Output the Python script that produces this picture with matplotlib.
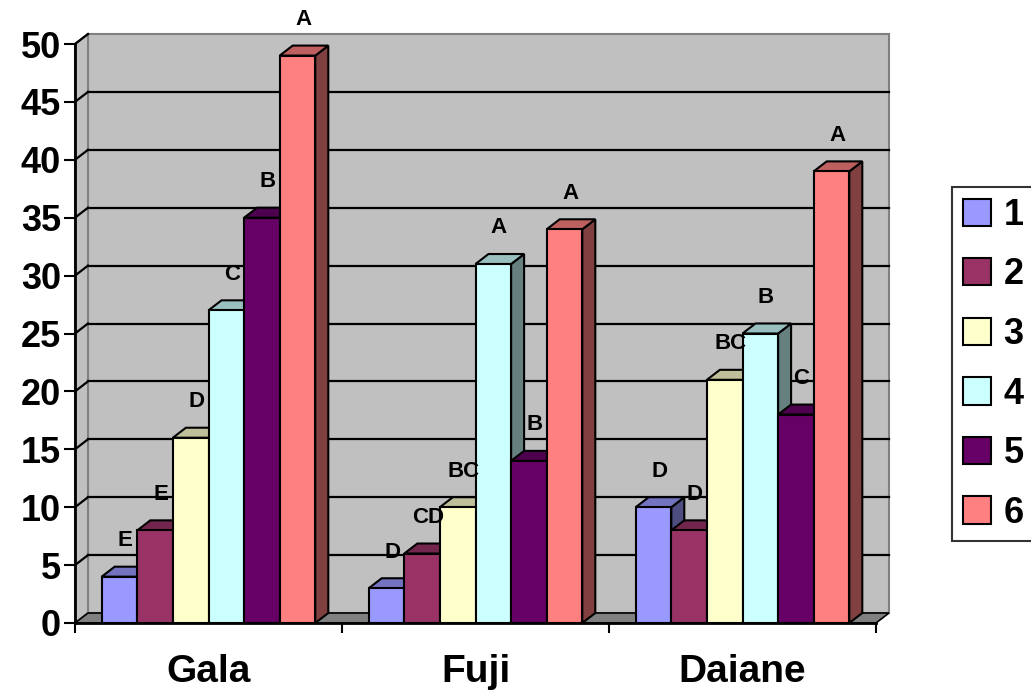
import numpy as np
import matplotlib
matplotlib.use('Agg')
import matplotlib.pyplot as plt
from matplotlib.patches import Polygon, Patch

# dados
categorias = ['Gala', 'Fuji', 'Daiane']
series = ['1', '2', '3', '4', '5', '6']
valores = [
    [4, 3, 10],    # 1
    [8, 6, 8],     # 2
    [16, 10, 21],  # 3
    [27, 31, 25],  # 4
    [35, 14, 18],  # 5
    [49, 34, 39],  # 6
]
letras = [
    ['E', 'D', 'D'],
    ['E', 'CD', 'D'],
    ['D', 'BC', 'BC'],
    ['C', 'A', 'B'],
    ['B', 'B', 'C'],
    ['A', 'A', 'A'],
]
cores = ['#9999FF', '#993366', '#FFFFCC', '#CCFFFF', '#660066', '#FF8080']
yticks = list(range(0, 55, 5))

plt.rcParams['font.family'] = ['Liberation Sans', 'DejaVu Sans']
plt.rcParams['font.weight'] = 'bold'

fig = plt.figure(figsize=(10.31, 6.91), dpi=100)
W, H = 1031, 691
ax = fig.add_axes([75 / W, (H - 623) / H, (876 - 75) / W, (623 - 44) / H])
ax.set_xlim(-0.5, 2.5)
ax.set_ylim(0, 50)
ax.patch.set_visible(False)


def escurece(c, f):
    r, g, b = matplotlib.colors.to_rgb(c)
    return (r * f, g * f, b * f)


# profundidade 3D em unidades de dados (13 px x 10 px)
fig.canvas.draw()
p0 = ax.transData.transform((0, 0))
p1 = ax.transData.inverted().transform((p0[0] + 13, p0[1] + 10))
ddx, ddy = p1[0], p1[1]

x0, x1 = -0.5, 2.5
# parede do fundo, parede lateral e piso
ax.add_patch(Polygon([(x0 + ddx, ddy), (x1 + ddx, ddy), (x1 + ddx, 50 + ddy), (x0 + ddx, 50 + ddy)],
                     closed=True, facecolor='#C0C0C0', edgecolor='#808080', lw=1.5,
                     clip_on=False, zorder=0))
ax.add_patch(Polygon([(x0, 0), (x0, 50), (x0 + ddx, 50 + ddy), (x0 + ddx, ddy)],
                     closed=True, facecolor='#C0C0C0', edgecolor='#808080', lw=1.5,
                     clip_on=False, zorder=0))
ax.add_patch(Polygon([(x0, 0), (x1, 0), (x1 + ddx, ddy), (x0 + ddx, ddy)],
                     closed=True, facecolor='#808080', edgecolor='black', lw=1.2,
                     clip_on=False, zorder=0.5))
for v in yticks[1:]:
    if v < 50:
        ax.plot([x0 + ddx, x1 + ddx], [v + ddy, v + ddy], color='black', lw=1.6,
                clip_on=False, zorder=0.6)
    ax.plot([x0, x0 + ddx], [v, v + ddy], color='black', lw=1.6, clip_on=False, zorder=0.6)

# barras
largura = 0.8 / len(series)
x = np.arange(len(categorias))
for c in range(len(categorias)):
    for i in range(len(series)):
        v = valores[i][c]
        xe = x[c] + (i - 3) * largura
        xd = xe + largura
        z = 2 + c * 10 + i
        ax.add_patch(Polygon([(xd, 0), (xd, v), (xd + ddx, v + ddy), (xd + ddx, ddy)],
                             closed=True, facecolor=escurece(cores[i], 0.5),
                             edgecolor='black', lw=1.5, zorder=z, clip_on=False))
        ax.add_patch(Polygon([(xe, v), (xe + ddx, v + ddy), (xd + ddx, v + ddy), (xd, v)],
                             closed=True, facecolor=escurece(cores[i], 0.75),
                             edgecolor='black', lw=1.5, zorder=z, clip_on=False))
        ax.bar(xe, v, width=largura, align='edge', color=cores[i], edgecolor='black',
               linewidth=1.5, zorder=z + 0.5)
        ax.annotate(letras[i][c], (xe + largura / 2, v), xytext=(4, 26),
                    textcoords='offset points', ha='center', va='center',
                    fontsize=16, fontweight='bold', zorder=50, annotation_clip=False)

# eixos
for s in ['top', 'right']:
    ax.spines[s].set_visible(False)
ax.spines['left'].set_linewidth(2)
ax.spines['bottom'].set_linewidth(2)
ax.spines['left'].set_zorder(60)
ax.spines['bottom'].set_zorder(60)
ax.set_yticks(yticks)
ax.set_yticklabels([str(t) for t in yticks])
ax.tick_params(axis='y', direction='out', length=8, width=1.5, labelsize=26, pad=2)
ax.set_xticks(x)
ax.set_xticklabels(categorias)
ax.tick_params(axis='x', which='major', length=0, labelsize=28, pad=22)
ax.set_xticks([-0.5, 0.5, 1.5, 2.5], minor=True)
ax.tick_params(axis='x', which='minor', direction='out', length=7, width=1.5)

# legenda
handles = [Patch(facecolor=cores[i], edgecolor='black', linewidth=1.5) for i in range(len(series))]
leg = fig.legend(handles, series, loc='upper left', bbox_to_anchor=(952 / W, 1 - 187 / H),
                 bbox_transform=fig.transFigure, fontsize=26, frameon=True, fancybox=False,
                 handlelength=0.78, handleheight=0.78, handletextpad=0.35,
                 labelspacing=0.68, borderpad=0.3, borderaxespad=0)
leg.get_frame().set_edgecolor('black')
leg.get_frame().set_linewidth(1.5)
for t in leg.get_texts():
    t.set_fontweight('bold')

plt.savefig('out.png', dpi=100)
plt.close()
